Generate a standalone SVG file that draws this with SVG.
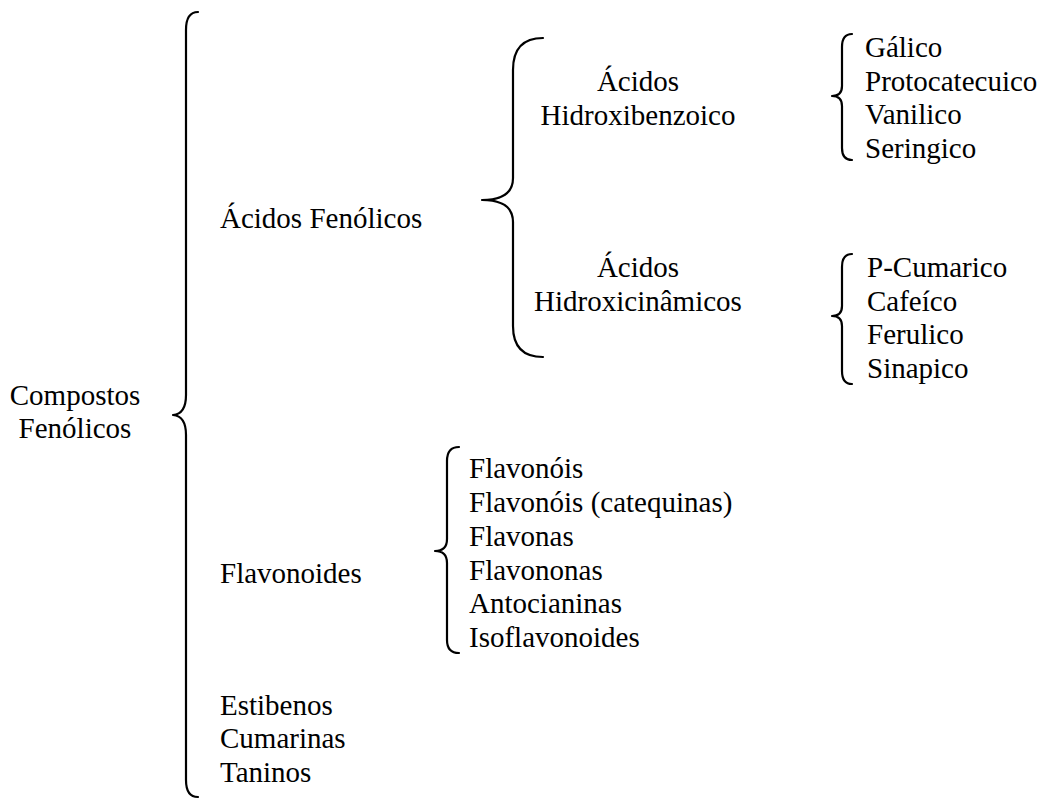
<svg xmlns="http://www.w3.org/2000/svg" width="1043" height="805" viewBox="0 0 1043 805">
<style>
.t{font-family:'Liberation Serif','Times New Roman',serif;font-size:29px;fill:#000}
.c{text-anchor:middle}
.b{fill:none;stroke:#000;stroke-width:2.2;stroke-linecap:round;stroke-linejoin:round}
</style>
<rect width="1043" height="805" fill="#fff"/>
<g id="connectors">
<path class="b" d="M198,12 Q186,12 186,30 L186,395 Q186,414 173,415 Q186,416 186,435 L186,780 Q186,797 198,797"/>
<path class="b" d="M543,38 Q513,38 513,70 L513,178 Q513,200 482,200 Q513,200 513,222 L513,326 Q513,357 543,357"/>
<path class="b" d="M852,34 Q842,34 842,47 L842,86 Q842,96 832,96 Q842,96 842,106 L842,148 Q842,160 852,160"/>
<path class="b" d="M852,254 Q842,254 842,267 L842,306 Q842,316 832,316 Q842,316 842,326 L842,371 Q842,384 852,384"/>
<path class="b" d="M459,447 Q447,447 447,461 L447,539 Q447,551 435,551 Q447,551 447,563 L447,640 Q447,653 459,653"/>
</g>
<g class="t">
<g id="root"><text class="c" x="75" y="405">Compostos</text><text class="c" x="75" y="438">Fenólicos</text></g>
<g id="acidos-fenolicos"><text x="220" y="228">Ácidos Fenólicos</text></g>
<g id="hidroxibenzoico"><text class="c" x="638" y="91">Ácidos</text><text class="c" x="638" y="125">Hidroxibenzoico</text></g>
<g id="hidroxicinamicos"><text class="c" x="638" y="277">Ácidos</text><text class="c" x="638" y="311">Hidroxicinâmicos</text></g>
<g id="benzoicos"><text x="865" y="57">Gálico</text><text x="865" y="91">Protocatecuico</text><text x="865" y="124">Vanilico</text><text x="865" y="158">Seringico</text></g>
<g id="cinamicos"><text x="867" y="277">P-Cumarico</text><text x="867" y="311">Cafeíco</text><text x="867" y="344">Ferulico</text><text x="867" y="378">Sinapico</text></g>
<g id="flavonoides"><text x="220" y="583">Flavonoides</text></g>
<g id="flavonoides-list"><text x="469" y="478">Flavonóis</text><text x="469" y="512">Flavonóis (catequinas)</text><text x="469" y="546">Flavonas</text><text x="469" y="580">Flavononas</text><text x="469" y="613">Antocianinas</text><text x="469" y="647">Isoflavonoides</text></g>
<g id="outros"><text x="220" y="715">Estibenos</text><text x="220" y="748">Cumarinas</text><text x="220" y="782">Taninos</text></g>
</g>
</svg>
